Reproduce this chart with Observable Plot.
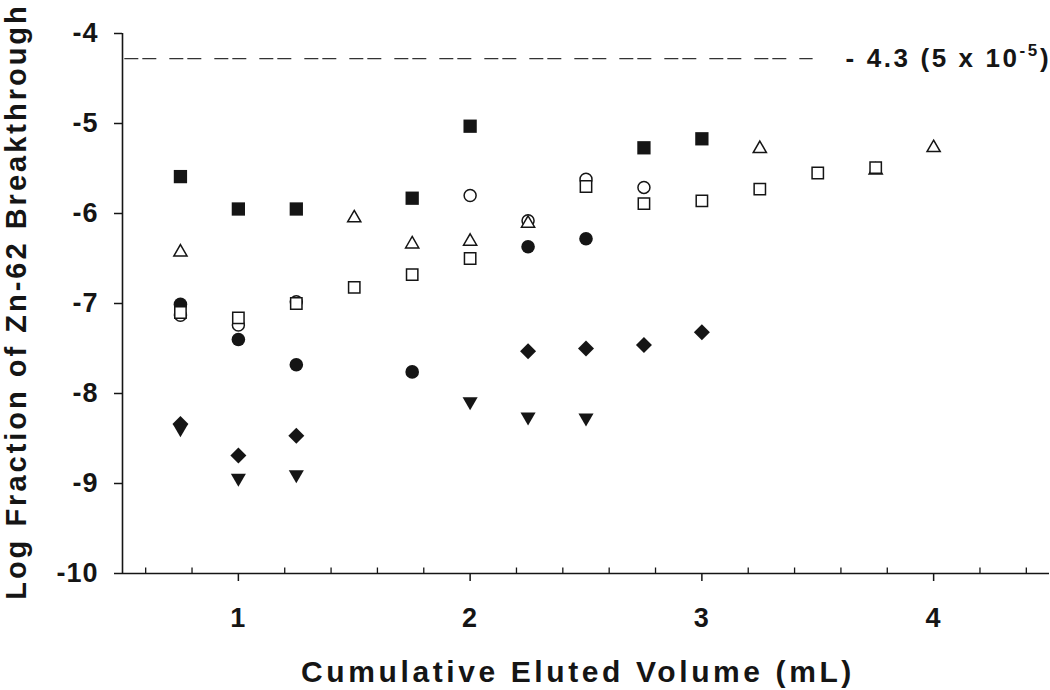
<!DOCTYPE html>
<html>
<head>
<meta charset="utf-8">
<script src="https://cdn.jsdelivr.net/npm/d3@7"></script>
<script src="https://cdn.jsdelivr.net/npm/@observablehq/plot@0.6"></script>
<style>
  html, body { margin: 0; padding: 0; background: #fff; }
  #chart { width: 1050px; height: 690px; overflow: hidden; }
</style>
</head>
<body>
<div id="chart"></div>
<script>
// ---- Data ----
const xTitle = "Cumulative Eluted Volume (mL)";
const yTitle = "Log Fraction of Zn-62 Breakthrough";
const annotText = "- 4.3 (5 x 10";
const annotSup = "-5";
const annotEnd = ")";

const xTicks = [1, 2, 3, 4];
const xMinorTicks = [0.6, 0.8, 1.2, 1.4, 1.6, 1.8, 2.2, 2.4, 2.6, 2.8, 3.2, 3.4, 3.6, 3.8, 4.2, 4.4];
const yTicks = [-10, -9, -8, -7, -6, -5, -4];
const xDomain = [0.5, 4.5];
const yDomain = [-10, -4];

// reference level -4.3 (dashed): y level, x start/end, label x
const refLevel = [-4.28];
const refExtent = [0.51, 3.48];
const refLabelX = [3.62];

// filled squares
const fsqX = [0.75, 1.0, 1.25, 1.75, 2.0, 2.75, 3.0];
const fsqY = [-5.59, -5.95, -5.95, -5.83, -5.03, -5.27, -5.17];
// open triangles
const otrX = [0.75, 1.5, 1.75, 2.0, 2.25, 3.25, 3.75, 4.0];
const otrY = [-6.43, -6.05, -6.34, -6.31, -6.11, -5.28, -5.52, -5.27];
// open squares
const osqX = [0.75, 1.0, 1.25, 1.5, 1.75, 2.0, 2.5, 2.75, 3.0, 3.25, 3.5, 3.75];
const osqY = [-7.10, -7.16, -7.00, -6.82, -6.68, -6.50, -5.70, -5.89, -5.86, -5.73, -5.55, -5.49];
// open circles
const ociX = [0.75, 1.0, 1.25, 2.0, 2.25, 2.5, 2.75];
const ociY = [-7.13, -7.24, -6.98, -5.80, -6.08, -5.62, -5.71];
// filled circles
const fciX = [0.75, 1.0, 1.25, 1.75, 2.25, 2.5];
const fciY = [-7.01, -7.40, -7.68, -7.76, -6.37, -6.28];
// filled diamonds
const fdiX = [0.75, 1.0, 1.25, 2.25, 2.5, 2.75, 3.0];
const fdiY = [-8.34, -8.69, -8.47, -7.53, -7.50, -7.46, -7.32];
// filled down-triangles
const fdtX = [0.75, 1.0, 1.25, 2.0, 2.25, 2.5];
const fdtY = [-8.39, -8.94, -8.90, -8.09, -8.26, -8.27];

const pts = (xs, ys) => xs.map((x, i) => ({x, y: ys[i]}));

const INK = "#151515";
const tickUp = { draw(ctx) { ctx.moveTo(0, 0); ctx.lineTo(0, -6); } };

const chart = Plot.plot({
  width: 1050,
  height: 690,
  marginLeft: 122,
  marginRight: 1,
  marginTop: 33,
  marginBottom: 117,
  x: { domain: xDomain },
  y: { domain: yDomain },
  style: { fontFamily: "'Liberation Sans', Arial, sans-serif", fontWeight: "bold", color: INK, background: "white" },
  marks: [
    // dashed reference level
    Plot.ruleY(refLevel, { y: d => d, x1: () => refExtent[0], x2: () => refExtent[1], stroke: "#333", strokeWidth: 1.2, strokeDasharray: "14,4,14,13" }),
    Plot.text(refLevel, { x: () => refLabelX[0], y: d => d, text: () => annotText, textAnchor: "start", lineAnchor: "middle", fontSize: 26, fill: INK }),

    // axes
    Plot.ruleX([xDomain[0]], { stroke: INK, strokeWidth: 1.6 }),
    Plot.ruleY([yDomain[0]], { stroke: INK, strokeWidth: 1.6 }),
    Plot.axisX({ ticks: xTicks, tickSize: 8, tickPadding: 26, fontSize: 28, tickFormat: d => String(d), label: null, strokeWidth: 1.5, stroke: INK }),
    Plot.dot(xMinorTicks, { x: d => d, y: () => yDomain[0], symbol: tickUp, stroke: INK, strokeWidth: 1.3, fill: "none" }),
    Plot.axisY({ ticks: yTicks, tickSize: 8, tickPadding: 16, fontSize: 28, tickFormat: d => String(d), label: null, strokeWidth: 1.5, stroke: INK }),

    // series
    Plot.dot(pts(fciX, fciY), { x: "x", y: "y", symbol: "circle", r: 6.8, fill: INK, stroke: "none" }),
    Plot.dot(pts(ociX, ociY), { x: "x", y: "y", symbol: "circle", r: 6.0, fill: "white", stroke: INK, strokeWidth: 1.5 }),
    Plot.dot(pts(otrX, otrY), { x: "x", y: "y", symbol: "triangle", r: 4.9, fill: "white", stroke: INK, strokeWidth: 1.5 }),
    Plot.dot(pts(osqX, osqY), { x: "x", y: "y", symbol: "square", r: 6.4, fill: "white", stroke: INK, strokeWidth: 1.5 }),
    Plot.dot(pts(fsqX, fsqY), { x: "x", y: "y", symbol: "square", r: 7.5, fill: INK, stroke: "none" }),
    Plot.dot(pts(fdiX, fdiY), { x: "x", y: "y", symbol: "diamond2", r: 7.2, fill: INK, stroke: "none" }),
    Plot.dot(pts(fdtX, fdtY), { x: "x", y: "y", symbol: "triangle", rotate: 180, r: 5.6, fill: INK, stroke: "none" }),

    // titles
    Plot.text([xTitle], { frameAnchor: "bottom", text: d => d, textAnchor: "middle", lineAnchor: "middle", dy: 99, dx: -8, fontSize: 30, fill: INK }),
    Plot.text([yTitle], { frameAnchor: "left", text: d => d, textAnchor: "middle", lineAnchor: "middle", rotate: -90, dx: -106, dy: -2, fontSize: 29, fill: INK })
  ]
});

document.getElementById("chart").appendChild(chart);

// typographic touches: letter spacing, tick label size, superscript
d3.select(chart).selectAll("text").each(function () {
  const t = this.textContent;
  if (t === xTitle) this.style.letterSpacing = "3.6px";
  else if (t === yTitle) this.style.letterSpacing = "3px";
  else if (t === annotText) {
    this.style.letterSpacing = "2.6px";
    const ns = "http://www.w3.org/2000/svg";
    const sup = document.createElementNS(ns, "tspan");
    sup.setAttribute("dy", "-11");
    sup.setAttribute("font-size", "17");
    sup.textContent = annotSup;
    const end = document.createElementNS(ns, "tspan");
    end.setAttribute("dy", "11");
    end.textContent = annotEnd;
    this.appendChild(sup);
    this.appendChild(end);
  } else if (/^-?\d+$/.test(t)) {
    this.style.fontSize = "27px";
    this.style.letterSpacing = "1px";
  }
});
</script>
</body>
</html>
